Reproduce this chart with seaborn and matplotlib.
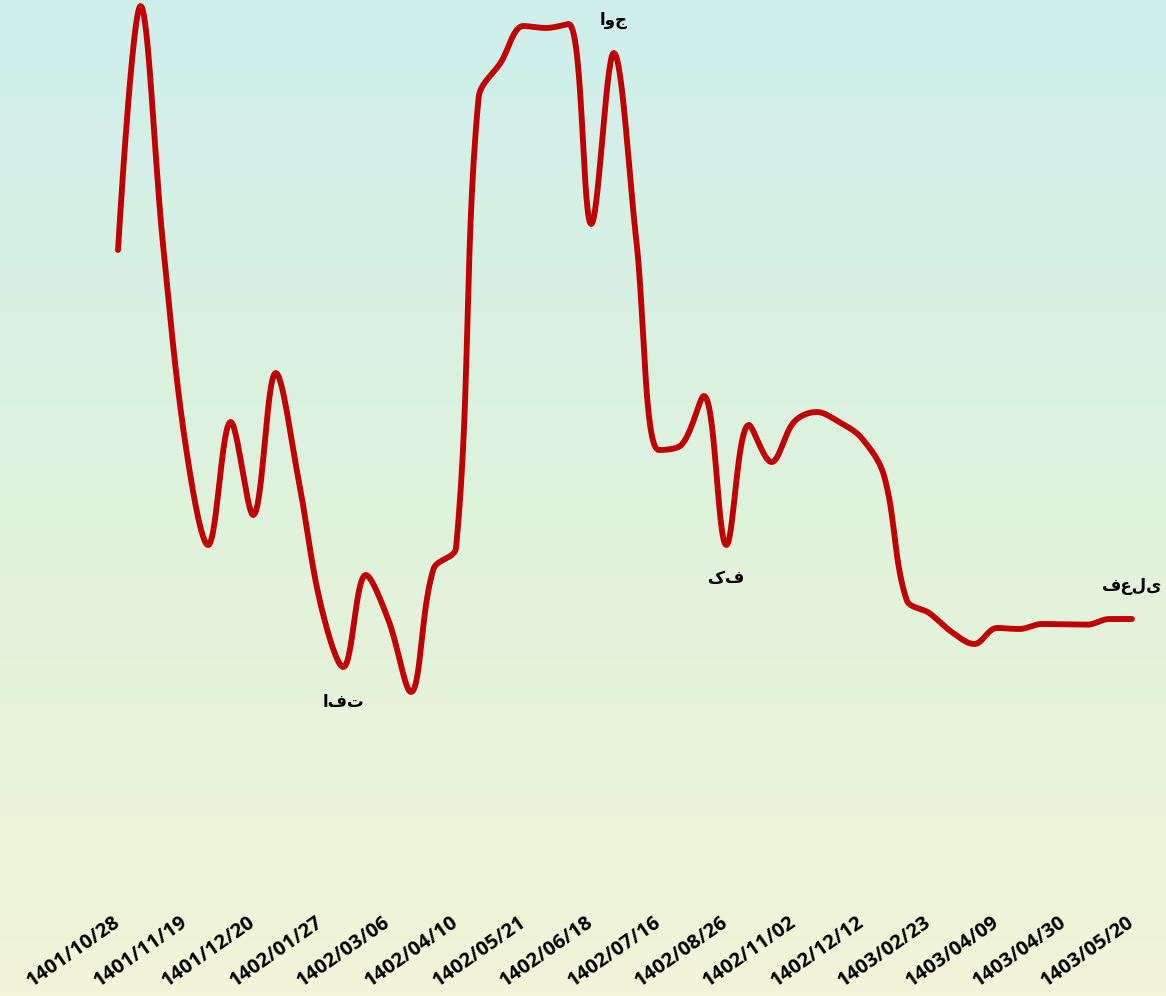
import numpy as np
import seaborn as sns
import matplotlib.pyplot as plt
from matplotlib.colors import LinearSegmentedColormap

# tick labels (every third point is labelled)
tick_labels = ['1401/10/28', '1401/11/19', '1401/12/20', '1402/01/27', '1402/03/06',
               '1402/04/10', '1402/05/21', '1402/06/18', '1402/07/16', '1402/08/26',
               '1402/11/02', '1402/12/12', '1403/02/23', '1403/04/09', '1403/04/30',
               '1403/05/20']

# series values
values = [750, 994, 755, 555, 455, 578, 485, 627, 522, 395,
          333, 425, 380, 308, 431, 452, 902, 938, 974, 972,
          976, 776, 947, 760, 550, 555, 604, 455, 575, 538,
          578, 588, 578, 562, 524, 400, 387, 368, 356, 372,
          371, 376, 375.7, 375.3, 381, 381]

# labelled points: (index, text, offset)
notes = [(22, 'اوج', 24), (27, 'کف', -24), (10, 'افت', -25), (45, 'فعلی', 24)]

X_PX = 22.53  # pixels per step, used only to weigh the smoothing


def clamp(v, a, b):
    return min(max(v, min(a, b)), max(a, b))


def smooth(x, y, k=0.35, n=30):
    # bezier smoothing with clamped control points (no overshoot)
    px = list(np.asarray(x, float) * X_PX)
    py = list(np.asarray(y, float))
    m = len(px)
    c_in = [(px[i], py[i]) for i in range(m)]
    c_out = [(px[i], py[i]) for i in range(m)]
    for i in range(1, m - 1):
        x0, y0, x1, y1, x2, y2 = px[i - 1], py[i - 1], px[i], py[i], px[i + 1], py[i + 1]
        vx, vy = x2 - x0, y2 - y0
        l0 = np.hypot(x1 - x0, y1 - y0)
        l1 = np.hypot(x2 - x1, y2 - y1)
        r = l1 / (l0 + l1)
        ox = clamp(x1 + vx * k * r, x1, x2)
        oy = clamp(y1 + vy * k * r, y1, y2)
        ix = clamp(x1 - (ox - x1) * l0 / l1, x0, x1)
        iy = clamp(y1 - (oy - y1) * l0 / l1, y0, y1)
        ox = x1 + (x1 - ix) * l1 / l0
        oy = y1 + (y1 - iy) * l1 / l0
        c_in[i] = (ix, iy)
        c_out[i] = (ox, oy)
    t = np.linspace(0, 1, n, endpoint=False)
    xs, ys = [], []
    for i in range(m - 1):
        a, b = (px[i], py[i]), c_out[i]
        c, d = c_in[i + 1], (px[i + 1], py[i + 1])
        for j, out in ((0, xs), (1, ys)):
            out.extend((1 - t) ** 3 * a[j] + 3 * (1 - t) ** 2 * t * b[j]
                       + 3 * (1 - t) * t ** 2 * c[j] + t ** 3 * d[j])
    xs.append(px[-1])
    ys.append(py[-1])
    return np.array(xs) / X_PX, np.array(ys)


sns.set_style('white')
plt.rcParams['font.family'] = ['Open Sans', 'DejaVu Sans']

fig = plt.figure(figsize=(11.66, 9.96), dpi=100)

# background gradient
bg = fig.add_axes([0, 0, 1, 1], zorder=0)
grad = LinearSegmentedColormap.from_list('bg', ['#cfefec', '#dff2dd', '#f2f5d8'])
bg.imshow(np.linspace(0, 1, 256).reshape(-1, 1), aspect='auto', cmap=grad, extent=[0, 1, 0, 1])
bg.axis('off')

ax = fig.add_axes([0, 91 / 996, 1, 905 / 996], zorder=1)
ax.set_facecolor('none')

idx = np.arange(len(values))
sx, sy = smooth(idx, values)
sns.lineplot(x=sx, y=sy, sort=False, color='#c00000', linewidth=4.2, ax=ax,
             solid_capstyle='round', solid_joinstyle='round')

for i, txt, off in notes:
    ax.annotate(txt, (i, values[i]), xytext=(0, off), textcoords='offset points',
                ha='center', va='center', fontsize=12, fontweight='bold',
                family=['DejaVu Sans'], color='black')

ax.set_xlim(-5.237, 46.51)
ax.set_ylim(95, 1000)
ax.set_xticks(idx[::3])
ax.set_xticklabels(tick_labels, rotation=35, ha='right', va='center',
                   rotation_mode='anchor', fontsize=14.5, fontweight='bold', color='black')
ax.tick_params(axis='x', length=0, pad=11)
ax.set_yticks([])
ax.set_xlabel('')
ax.set_ylabel('')
sns.despine(ax=ax, left=True, bottom=True)

fig.savefig('out.png', dpi=100)
